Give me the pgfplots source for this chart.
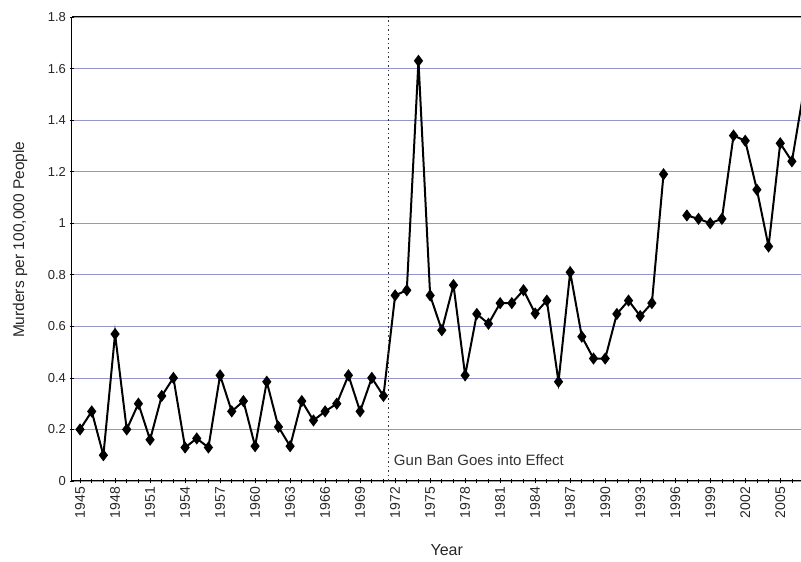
\documentclass[border=0pt]{standalone}
\usepackage{fontspec}
\setmainfont{Liberation Sans}
\usepackage{pgfplots}
\pgfplotsset{compat=1.18}
\usepackage{pgfplotstable}
\definecolor{gridc}{RGB}{150,150,205}
\pgfplotstableread{
year rate
1945 0.20
1946 0.27
1947 0.10
1948 0.57
1949 0.20
1950 0.30
1951 0.16
1952 0.33
1953 0.40
1954 0.13
1955 0.165
1956 0.13
1957 0.41
1958 0.27
1959 0.31
1960 0.135
1961 0.385
1962 0.21
1963 0.135
1964 0.31
1965 0.235
1966 0.27
1967 0.30
1968 0.41
1969 0.27
1970 0.40
1971 0.33
1972 0.72
1973 0.74
1974 1.63
1975 0.72
1976 0.585
1977 0.76
1978 0.41
1979 0.648
1980 0.61
1981 0.69
1982 0.69
1983 0.74
1984 0.65
1985 0.70
1986 0.385
1987 0.81
1988 0.56
1989 0.475
1990 0.475
1991 0.648
1992 0.70
1993 0.64
1994 0.69
1995 1.19
1996 nan
1997 1.03
1998 1.017
1999 1.00
2000 1.017
2001 1.34
2002 1.32
2003 1.13
2004 0.91
2005 1.31
2006 1.24
2007 1.51
}\murders
\begin{document}
\begin{tikzpicture}
\useasboundingbox (-72pt,-81pt) rectangle (729pt,481pt);
\begin{axis}[
  scale only axis,
  width=729pt, height=464pt,
  xmin=1944.31, xmax=2006.78,
  ymin=0, ymax=1.8,
  separate axis lines,
  axis x line*=box,
  axis y line*=left,
  xtick pos=bottom,
  xtick={1945,1948,...,2005},
  minor xtick={1944,...,2007},
  x tick label style={rotate=90, anchor=east, font=\fontsize{14}{16}\selectfont, text=black!85, /pgf/number format/1000 sep={}},
  ytick={0,0.2,...,1.8},
  yticklabels={0,0.2,0.4,0.6,0.8,1,1.2,1.4,1.6,1.8},
  y tick label style={font=\fontsize{13}{15}\selectfont, text=black!85},
  /pgf/number format/assume math mode=true,
  tick align=center,
  major tick length=5pt,
  minor tick length=4pt,
  tick style={black, line width=0.6pt},
  ymajorgrids,
  major grid style={gridc, line width=0.6pt},
  axis line style={black, line width=1pt},
  xlabel={Year},
  ylabel={Murders per 100,000 People},
  xlabel style={at={(axis description cs:0.514,0)}, anchor=center, yshift=-69pt, font=\fontsize{16}{18}\selectfont, text=black!85},
  ylabel style={at={(axis description cs:-0.0713,0.52)}, anchor=center, rotate=0, font=\fontsize{15.5}{18}\selectfont, text=black!85},
  unbounded coords=jump,
  clip=true,
]
\addplot[black, line width=2pt, mark=diamond*, mark size=4.5pt, mark options={fill=black, solid}] table[x=year, y=rate] {\murders};
\draw[black!80, line width=1.2pt, dash pattern=on 1.5pt off 3pt] (axis cs:1971.4,0) -- (axis cs:1971.4,1.8);
\node[anchor=west, font=\fontsize{15}{17}\selectfont, text=black!80] at (axis cs:1971.6,0.082) {Gun Ban Goes into Effect};
\end{axis}
\end{tikzpicture}
\end{document}
